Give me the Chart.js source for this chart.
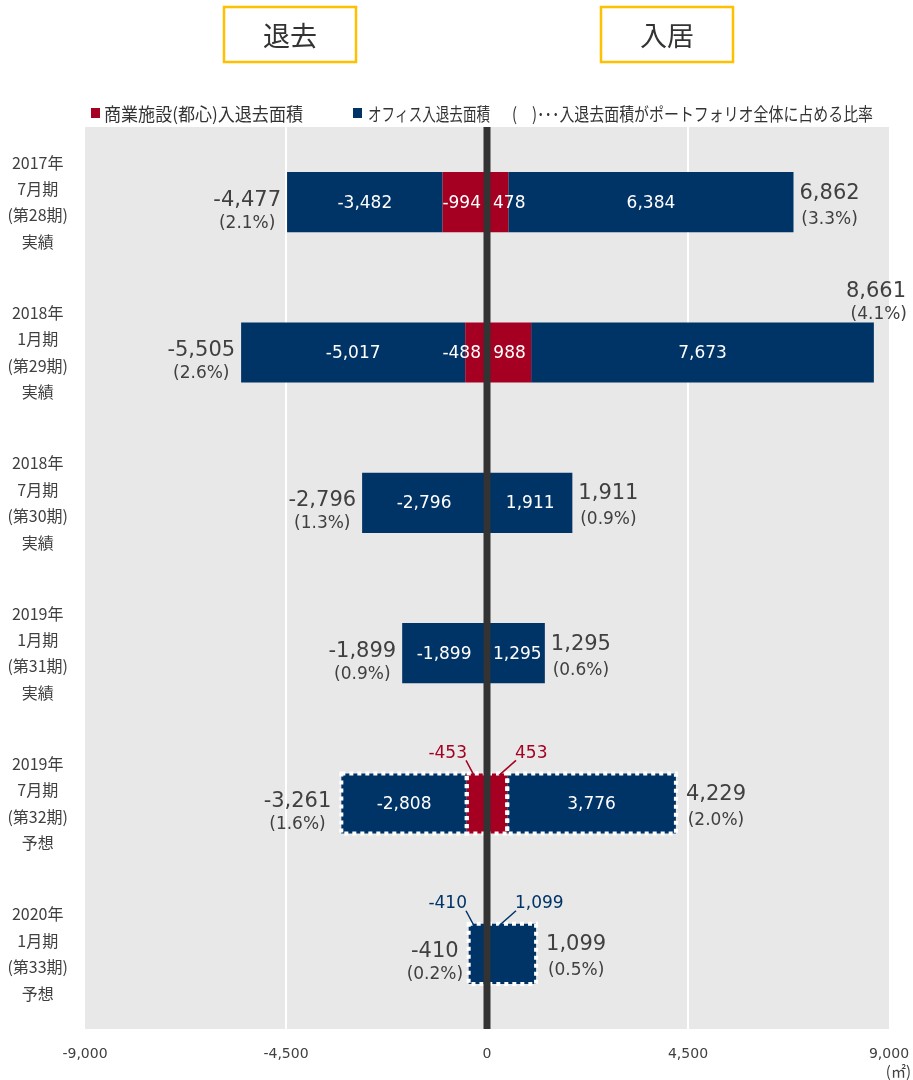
<!DOCTYPE html>
<html lang="ja">
<head>
<meta charset="utf-8">
<title>入退去面積の推移</title>
<script src="https://cdn.jsdelivr.net/npm/chart.js@4.4.1/dist/chart.umd.min.js"></script>
<style>
    html, body { margin: 0; padding: 0; background: #fff; }
    #wrap { width: 913px; height: 1080px; }
</style>
</head>
<body>
<div id="wrap"><canvas id="flowChart" width="913" height="1080"></canvas></div>
<script>
// periods, top to bottom
const periods = [
    ['2017年', '7月期', '(第28期)', '実績'],
    ['2018年', '1月期', '(第29期)', '実績'],
    ['2018年', '7月期', '(第30期)', '実績'],
    ['2019年', '1月期', '(第31期)', '実績'],
    ['2019年', '7月期', '(第32期)', '予想'],
    ['2020年', '1月期', '(第33期)', '予想'],
];

// move-out (negative) and move-in (positive) area, ㎡
const retailOut = [-994, -488, null, null, -453, null];
const officeOut = [-3482, -5017, -2796, -1899, -2808, -410];
const retailIn = [478, 988, null, null, 453, null];
const officeIn = [6384, 7673, 1911, 1295, 3776, 1099];

const outTotal = [-4477, -5505, -2796, -1899, -3261, -410];
const inTotal = [6862, 8661, 1911, 1295, 4229, 1099];
const outShare = ['2.1%', '2.6%', '1.3%', '0.9%', '1.6%', '0.2%'];
const inShare = ['3.3%', '4.1%', '0.9%', '0.6%', '2.0%', '0.5%'];

const xTicks = [-9000, -4500, 0, 4500, 9000];
const sideTitles = ['退去', '入居'];
const legendTexts = ['商業施設(都心)入退去面積', 'オフィス入退去面積', '(　)･･･入退去面積がポートフォリオ全体に占める比率'];

const RED = '#A50021';
const NAVY = '#003366';
const TEXT = '#404040';
const NUM_FONT = '"DejaVu Sans", "Noto Sans CJK JP", sans-serif';
const JP_FONT = '"Noto Sans CJK JP", sans-serif';

const fmt = v => v.toLocaleString('en-US');
const isForecast = i => periods[i][periods[i].length - 1] === '予想';
const font = (size, family) => `${size}px ${family}`;

const flowDecor = {
    id: 'flowDecor',
    beforeDraw(chart) {
        const {ctx, chartArea: a} = chart;
        ctx.save();
        ctx.fillStyle = '#fff';
        ctx.fillRect(0, 0, chart.width, chart.height);
        ctx.fillStyle = '#E8E8E8';
        ctx.fillRect(a.left, a.top, a.right - a.left, a.bottom - a.top);
        ctx.restore();
    },
    afterDatasetsDraw(chart) {
        const {ctx, chartArea: a, scales: {x, y}} = chart;
        const zeroX = x.getPixelForValue(0);
        const datasets = chart.data.datasets;

        // white dashed outline on forecast bars
        ctx.save();
        ctx.strokeStyle = '#fff';
        ctx.lineWidth = 4;
        ctx.setLineDash([4, 4]);
        datasets.forEach((ds, di) => {
            chart.getDatasetMeta(di).data.forEach((bar, i) => {
                if (ds.data[i] == null || !isForecast(i)) return;
                const l = Math.min(bar.x, bar.base), r = Math.max(bar.x, bar.base);
                ctx.strokeRect(l, bar.y - bar.height / 2, r - l, bar.height);
            });
        });
        ctx.restore();

        // zero line
        ctx.save();
        ctx.fillStyle = '#333';
        ctx.fillRect(zeroX - 3.5, a.top, 7, a.bottom - a.top);
        ctx.restore();

        // segment values
        ctx.save();
        ctx.font = font(17, NUM_FONT);
        ctx.textBaseline = 'middle';
        datasets.forEach((ds, di) => {
            chart.getDatasetMeta(di).data.forEach((bar, i) => {
                const v = ds.data[i];
                if (v == null) return;
                const text = fmt(v);
                const tw = ctx.measureText(text).width;
                const l = Math.min(bar.x, bar.base), r = Math.max(bar.x, bar.base);
                const top = bar.y - bar.height / 2;
                if (isForecast(i) && tw + 4 > r - l) {
                    // too narrow: put the value above with a leader line
                    const ty = top - 20;
                    ctx.fillStyle = ds.backgroundColor;
                    ctx.strokeStyle = ds.backgroundColor;
                    ctx.lineWidth = 1.5;
                    ctx.beginPath();
                    if (v < 0) {
                        ctx.textAlign = 'right';
                        ctx.fillText(text, zeroX - 20, ty);
                        ctx.moveTo(zeroX - 21, ty + 7);
                        ctx.lineTo(zeroX - 13, top + 2);
                    } else {
                        ctx.textAlign = 'left';
                        ctx.fillText(text, zeroX + 28, ty);
                        ctx.moveTo(zeroX + 29, ty + 7);
                        ctx.lineTo(zeroX + 12, top + 2);
                    }
                    ctx.stroke();
                    return;
                }
                let cx = (l + r) / 2;
                if (v < 0) cx = Math.min(cx, zeroX - 6 - tw / 2);
                else cx = Math.max(cx, zeroX + 6 + tw / 2);
                ctx.fillStyle = '#fff';
                ctx.textAlign = 'center';
                ctx.fillText(text, cx, bar.y + 1);
            });
        });

        // totals with portfolio share
        const rowMeta = chart.getDatasetMeta(1).data;
        ctx.fillStyle = TEXT;
        periods.forEach((p, i) => {
            const cy = y.getPixelForValue(i);
            const top = cy - rowMeta[i].height / 2;
            const pad = isForecast(i) ? 10 : 6;

            const outText = fmt(outTotal[i]);
            const xl = x.getPixelForValue(outTotal[i]) - pad;
            ctx.font = font(21, NUM_FONT);
            const ow = ctx.measureText(outText).width;
            ctx.textAlign = 'right';
            ctx.fillText(outText, xl, cy - 2);
            ctx.font = font(17, NUM_FONT);
            ctx.textAlign = 'center';
            ctx.fillText(`(${outShare[i]})`, xl - ow / 2, cy + 21);

            const inText = fmt(inTotal[i]);
            const xr = x.getPixelForValue(inTotal[i]) + pad;
            ctx.font = font(21, NUM_FONT);
            const iw = ctx.measureText(inText).width;
            if (xr + iw > a.right) {
                ctx.textAlign = 'right';
                ctx.fillText(inText, chart.width - 7, top - 31);
                ctx.font = font(17, NUM_FONT);
                ctx.fillText(`(${inShare[i]})`, chart.width - 6, top - 8);
            } else {
                ctx.textAlign = 'left';
                ctx.fillText(inText, xr, cy - 9);
                ctx.font = font(17, NUM_FONT);
                ctx.textAlign = 'center';
                ctx.fillText(`(${inShare[i]})`, xr + iw / 2, cy + 17);
            }
        });
        ctx.restore();
    },
    afterDraw(chart) {
        const {ctx, scales: {x}} = chart;
        const zeroX = x.getPixelForValue(0);
        ctx.save();

        // 退去 / 入居 header boxes
        [zeroX - 197, zeroX + 180].forEach((cx, k) => {
            ctx.fillStyle = '#fff';
            ctx.fillRect(cx - 66, 7, 132, 55);
            ctx.strokeStyle = '#FFC000';
            ctx.lineWidth = 2.5;
            ctx.strokeRect(cx - 66, 7, 132, 55);
            ctx.fillStyle = '#333';
            ctx.font = font(27, JP_FONT);
            ctx.textAlign = 'center';
            ctx.textBaseline = 'middle';
            ctx.fillText(sideTitles[k], cx, 36);
        });

        // legend row
        ctx.font = font(18, JP_FONT);
        ctx.textAlign = 'left';
        ctx.textBaseline = 'middle';
        ctx.fillStyle = RED;
        ctx.fillRect(91, 108, 9, 10);
        ctx.fillStyle = NAVY;
        ctx.fillRect(353, 108, 9, 10);
        ctx.fillStyle = '#333';
        ctx.fillText(legendTexts[0], 104, 114, 199);
        ctx.fillText(legendTexts[1], 368, 114, 122);
        ctx.fillText(legendTexts[2], 512, 114, 361);

        // unit under the axis
        ctx.font = font(15, JP_FONT);
        ctx.textAlign = 'right';
        ctx.fillStyle = TEXT;
        ctx.fillText('(㎡)', chart.width - 2, 1071);
        ctx.restore();
    }
};

new Chart(document.getElementById('flowChart'), {
    type: 'bar',
    data: {
        labels: periods,
        datasets: [
            {label: '商業施設(都心)退去', data: retailOut, backgroundColor: RED},
            {label: 'オフィス退去', data: officeOut, backgroundColor: NAVY},
            {label: '商業施設(都心)入居', data: retailIn, backgroundColor: RED},
            {label: 'オフィス入居', data: officeIn, backgroundColor: NAVY},
        ]
    },
    options: {
        indexAxis: 'y',
        responsive: false,
        animation: false,
        datasets: {
            bar: {barPercentage: 0.4, categoryPercentage: 1, borderWidth: 0}
        },
        layout: {padding: {top: 127, right: 24, bottom: 0, left: 0}},
        plugins: {
            legend: {display: false},
            tooltip: {enabled: false}
        },
        scales: {
            x: {
                stacked: true,
                min: xTicks[0],
                max: xTicks[xTicks.length - 1],
                afterBuildTicks: scale => {
                    scale.ticks = xTicks.map(v => ({value: v}));
                },
                afterFit: scale => {
                    scale.height = 51;
                    scale.paddingLeft = 0;
                    scale.paddingRight = 0;
                },
                border: {display: false},
                grid: {
                    drawTicks: false,
                    lineWidth: 2,
                    color: ctx => {
                        const v = ctx.tick ? ctx.tick.value : 0;
                        return (v === 0 || Math.abs(v) === 9000) ? 'rgba(0,0,0,0)' : '#fff';
                    }
                },
                ticks: {
                    padding: 17,
                    color: TEXT,
                    font: {family: NUM_FONT, size: 14},
                    callback: v => fmt(v)
                }
            },
            y: {
                stacked: true,
                afterFit: scale => {
                    scale.width = 85;
                    scale.paddingTop = 0;
                    scale.paddingBottom = 0;
                },
                border: {display: false},
                grid: {display: false, drawTicks: false},
                ticks: {
                    crossAlign: 'center',
                    padding: 17,
                    color: TEXT,
                    font: {family: JP_FONT, size: 16, lineHeight: 1.65}
                }
            }
        }
    },
    plugins: [flowDecor]
});
</script>
</body>
</html>
